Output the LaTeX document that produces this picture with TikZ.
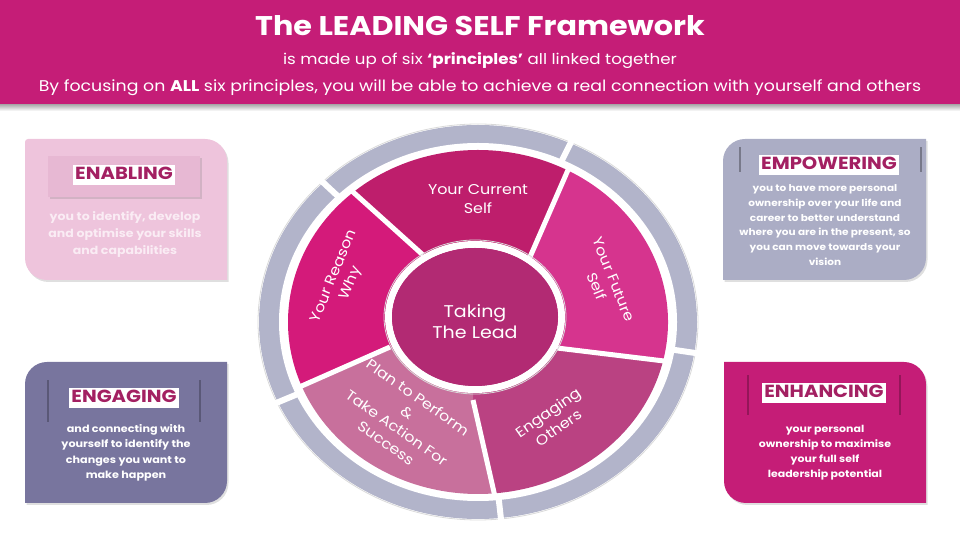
\documentclass[tikz,border=0pt]{standalone}
\usepackage{fontspec}
\setmainfont{Poppins}[FakeStretch=1.12]
\usetikzlibrary{calc,shadows}

\definecolor{headmag}{RGB}{197,29,119}
\definecolor{headtext}{RGB}{163,32,98}
\definecolor{enablepink}{RGB}{238,196,220}
\definecolor{enableband}{RGB}{231,184,211}
\definecolor{enablebody}{RGB}{250,236,244}
\definecolor{engageslate}{RGB}{120,117,158}
\definecolor{empowergray}{RGB}{171,173,197}
\definecolor{ringgray}{RGB}{178,180,202}
\definecolor{curself}{RGB}{190,30,108}
\definecolor{futself}{RGB}{214,52,142}
\definecolor{engothers}{RGB}{186,66,130}
\definecolor{planseg}{RGB}{200,112,156}
\definecolor{reasonseg}{RGB}{212,26,122}
\definecolor{leadseg}{RGB}{178,42,115}

\tikzset{
    cardhead/.style={fill=white, text=headtext, inner xsep=2pt, inner ysep=1.5pt,
        text height=13pt, text depth=3.5pt, font=\bfseries\fontsize{17.5}{20}\selectfont},
    cardbody/.style={text=white, align=center},
    segtext/.style={text=white, align=center, font=\fontsize{14.2}{18.5}\selectfont},
    cutline/.style={white, line width=5pt},
    cardshadow/.style={drop shadow={shadow xshift=1.5pt, shadow yshift=-2pt, opacity=.25}},
}

\begin{document}
\begin{tikzpicture}[x=1pt, y=1pt]
    \useasboundingbox (0,0) rectangle (960,540);
    % The banner
    \shade[top color=black!35, bottom color=white] (0,429) rectangle (960,436);
    \fill[headmag] (0,436) rectangle (960,540);
    \node[text=white, font=\bfseries\fontsize{27}{30}\selectfont] (title) at (480,514)
        {The LEADING SELF Framework};
    \node[text=white, font=\fontsize{14.9}{17}\selectfont] (subtitle) at (480,479)
        {is made up of six \textbf{‘principles’} all linked together};
    \node[text=white, font=\fontsize{15.5}{17}\selectfont] (strapline) at (480,452)
        {By focusing on \textbf{ALL} six principles, you will be able to achieve a real connection with yourself and others};

    % The cards
    \fill[enablepink, cardshadow] (25,398) arc[start angle=180, end angle=90, radius=3pt] -- (205,401)
        arc[start angle=90, end angle=0, radius=22pt]
        -- (227,260) -- (47,260) arc[start angle=270, end angle=180, radius=22pt] -- cycle;
    \fill[engageslate, cardshadow] (25,156) arc[start angle=180, end angle=90, radius=22pt]
        -- (227,178) -- (227,59) arc[start angle=0, end angle=-90, radius=22pt] -- (25,37) -- cycle;
    \fill[empowergray, cardshadow] (723,379) arc[start angle=180, end angle=90, radius=22pt]
        -- (926,401) -- (926,282) arc[start angle=0, end angle=-90, radius=22pt] -- (723,260) -- cycle;
    \fill[headmag, cardshadow] (724,178) -- (904,178) arc[start angle=90, end angle=0, radius=22pt]
        -- (926,37) -- (746,37) arc[start angle=270, end angle=180, radius=22pt] -- cycle;
    % The bands behind the card titles
    \fill[enableband, cardshadow] (48,343) rectangle (200,384);
    \draw[engageslate!75!black, line width=1.2pt] (48,118) -- (48,160) (200,118) -- (200,160);
    \draw[empowergray!70!black, line width=1.2pt] (740,368) -- (740,393) (921,368) -- (921,393);
    \draw[headmag!75!black, line width=1.2pt] (748,125) -- (748,165) (900,125) -- (900,165);
    % The card titles
    \node[cardhead] (enabling) at (124,365) {ENABLING};
    \node[cardhead] (engaging) at (124,142) {ENGAGING};
    \node[cardhead] (empowering) at (829,375) {EMPOWERING};
    \node[cardhead] (enhancing) at (824,147) {ENHANCING};
    % The card texts
    \node[cardbody, text=enablebody, font=\bfseries\fontsize{11.2}{17}\selectfont] (enabling text) at (125,305)
        {you to identify, develop\\and optimise your skills\\and capabilities};
    \node[cardbody, font=\bfseries\fontsize{10}{15.5}\selectfont] (engaging text) at (126,87)
        {and connecting with\\yourself to identify the\\changes you want to\\make happen};
    \node[cardbody, font=\bfseries\fontsize{9.4}{14.8}\selectfont] (empowering text) at (825,315)
        {you to have more personal\\ownership over your life and\\career to better understand\\where you are in the present, so\\you can move towards your\\vision};
    \node[cardbody, font=\bfseries\fontsize{9.8}{15}\selectfont] (enhancing text) at (825,87)
        {your personal\\ownership to maximise\\your full self\\leadership potential};

    % The outer ring
    \coordinate (wheel) at (478,218);
    \coordinate (lead) at (475,223);
    \fill[ringgray, even odd rule] (wheel) ellipse (219pt and 197pt) (wheel) ellipse (198pt and 178pt);
    \draw[black!15, line width=0.8pt] (wheel) ellipse (220pt and 198pt);
    \draw[white, line width=2pt] (wheel) ellipse (198pt and 178pt);
    \foreach \a in {65,135,204,276,351}
        \draw[white, line width=6pt] ($(wheel)+(\a:194pt and 174pt)$) -- ($(wheel)+(\a:224pt and 202pt)$);

    % The five principles
    \coordinate (cut current future) at (530,283);
    \coordinate (cut reason current) at (423,285);
    \coordinate (cut plan reason) at (390,193);
    \coordinate (cut engaging plan) at (473,140);
    \coordinate (cut future engaging) at (557,192);
    \fill[curself] (lead) -- (cut reason current) -- ($(wheel)+(131:190pt and 172pt)$)
        arc[start angle=131, end angle=62, x radius=190pt, y radius=172pt] -- (cut current future) -- cycle;
    \fill[futself] (lead) -- (cut current future) -- ($(wheel)+(62:190pt and 172pt)$)
        arc[start angle=62, end angle=-13, x radius=190pt, y radius=172pt] -- (cut future engaging) -- cycle;
    \fill[engothers] (lead) -- (cut future engaging) -- ($(wheel)+(-13:190pt and 172pt)$)
        arc[start angle=-13, end angle=-85, x radius=190pt, y radius=172pt] -- (cut engaging plan) -- cycle;
    \fill[planseg] (lead) -- (cut engaging plan) -- ($(wheel)+(-85:190pt and 172pt)$)
        arc[start angle=-85, end angle=-158, x radius=190pt, y radius=172pt] -- (cut plan reason) -- cycle;
    \fill[reasonseg] (lead) -- (cut plan reason) -- ($(wheel)+(202:190pt and 172pt)$)
        arc[start angle=202, end angle=131, x radius=190pt, y radius=172pt] -- (cut reason current) -- cycle;
    % Cuts between the principles
    \draw[cutline] (cut current future) -- ($(wheel)+(62:194pt and 175pt)$);
    \draw[cutline] (cut reason current) -- ($(wheel)+(131:194pt and 175pt)$);
    \draw[cutline] (cut plan reason) -- ($(wheel)+(202:194pt and 175pt)$);
    \draw[cutline] (cut engaging plan) -- ($(wheel)+(-85:194pt and 175pt)$);
    \draw[cutline] (cut future engaging) -- ($(wheel)+(-13:194pt and 175pt)$);
    % The centre
    \draw[black!15, line width=0.8pt] (lead) ellipse (91pt and 77pt);
    \draw[white, line width=7pt] (lead) ellipse (86.5pt and 72.5pt);
    \fill[leadseg] (lead) ellipse (83pt and 69pt);

    % Labels
    \node[text=white, align=center, font=\fontsize{17}{21}\selectfont] (taking lead) at (475,218) {Taking\\The Lead};
    \node[segtext] (current self) at (478,341) {Your Current\\Self};
    \node[segtext, rotate=68] (reason why) at (343,260) {Your Reason\\Why};
    \node[segtext, rotate=-68] (future self) at (605,257) {Your Future\\Self};
    \node[segtext, rotate=35] (engaging others) at (553,120) {Engaging\\Others};
    \node[segtext, rotate=-35] (plan perform) at (402,120) {Plan to Perform\\\&\\Take Action For\\Success};
\end{tikzpicture}
\end{document}
